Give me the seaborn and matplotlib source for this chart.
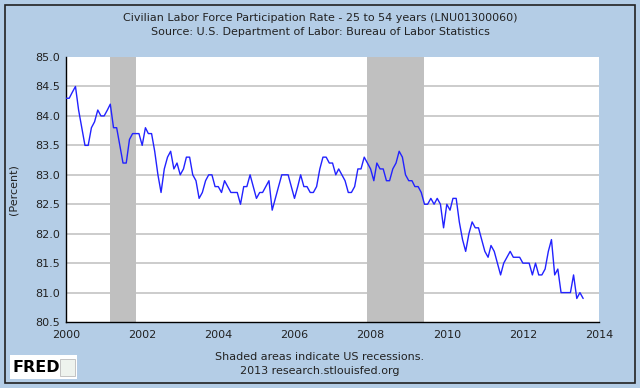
import pandas as pd
import seaborn as sns
import matplotlib.pyplot as plt
import matplotlib.dates as mdates
from matplotlib.patches import Rectangle

# %% data (monthly, not seasonally adjusted)

start_month = "2000-01-01"

rate_2000 = [84.3, 84.3, 84.4, 84.5, 84.1, 83.8, 83.5, 83.5, 83.8, 83.9, 84.1, 84.0]
rate_2001 = [84.0, 84.1, 84.2, 83.8, 83.8, 83.5, 83.2, 83.2, 83.6, 83.7, 83.7, 83.7]
rate_2002 = [83.5, 83.8, 83.7, 83.7, 83.4, 83.0, 82.7, 83.1, 83.3, 83.4, 83.1, 83.2]
rate_2003 = [83.0, 83.1, 83.3, 83.3, 83.0, 82.9, 82.6, 82.7, 82.9, 83.0, 83.0, 82.8]
rate_2004 = [82.8, 82.7, 82.9, 82.8, 82.7, 82.7, 82.7, 82.5, 82.8, 82.8, 83.0, 82.8]
rate_2005 = [82.6, 82.7, 82.7, 82.8, 82.9, 82.4, 82.6, 82.8, 83.0, 83.0, 83.0, 82.8]
rate_2006 = [82.6, 82.8, 83.0, 82.8, 82.8, 82.7, 82.7, 82.8, 83.1, 83.3, 83.3, 83.2]
rate_2007 = [83.2, 83.0, 83.1, 83.0, 82.9, 82.7, 82.7, 82.8, 83.1, 83.1, 83.3, 83.2]
rate_2008 = [83.1, 82.9, 83.2, 83.1, 83.1, 82.9, 82.9, 83.1, 83.2, 83.4, 83.3, 83.0]
rate_2009 = [82.9, 82.9, 82.8, 82.8, 82.7, 82.5, 82.5, 82.6, 82.5, 82.6, 82.5, 82.1]
rate_2010 = [82.5, 82.4, 82.6, 82.6, 82.2, 81.9, 81.7, 82.0, 82.2, 82.1, 82.1, 81.9]
rate_2011 = [81.7, 81.6, 81.8, 81.7, 81.5, 81.3, 81.5, 81.6, 81.7, 81.6, 81.6, 81.6]
rate_2012 = [81.5, 81.5, 81.5, 81.3, 81.5, 81.3, 81.3, 81.4, 81.7, 81.9, 81.3, 81.4]
rate_2013 = [81.0, 81.0, 81.0, 81.0, 81.3, 80.9, 81.0, 80.9]

recession_start = ["2001-03-01", "2007-12-01"]
recession_end = ["2001-11-01", "2009-06-01"]

y_ticks = [80.5, 81.0, 81.5, 82.0, 82.5, 83.0, 83.5, 84.0, 84.5, 85.0]
x_tick_years = [2000, 2002, 2004, 2006, 2008, 2010, 2012, 2014]

# %% build frame

rate = (rate_2000 + rate_2001 + rate_2002 + rate_2003 + rate_2004 + rate_2005
        + rate_2006 + rate_2007 + rate_2008 + rate_2009 + rate_2010 + rate_2011
        + rate_2012 + rate_2013)

lfpr = pd.DataFrame({"Date": pd.date_range(start_month, periods=len(rate), freq="MS"),
                     "Rate": rate})

# %% plot

fred_blue = "#b4cde6"

sns.set_style("white")
plt.rcParams['font.family'] = ['DejaVu Sans']

fig = plt.figure(figsize=(6.4, 3.88), dpi=100, facecolor=fred_blue)
fig.patches.append(Rectangle((0.008, 0.012), 0.984, 0.976, transform=fig.transFigure,
                             facecolor="none", edgecolor="#222222", linewidth=1.2))

ax = fig.add_axes([0.1031, 0.170, 0.833, 0.683])
ax.set_facecolor("white")

for s, e in zip(recession_start, recession_end):
    ax.axvspan(pd.Timestamp(s), pd.Timestamp(e), color="#c0c0c0", linewidth=0, zorder=1)

for v in y_ticks[1:-1]:
    ax.axhline(v, color="#cccccc", linewidth=1.4, zorder=0.5)

sns.lineplot(x="Date", y="Rate", data=lfpr, color="#2222ff", linewidth=1.0, ax=ax, zorder=3)

ax.set_xlim(pd.Timestamp("2000-01-01"), pd.Timestamp("2014-01-01"))
ax.set_ylim(80.5, 85.0)
ax.set_yticks(y_ticks)
ax.set_yticklabels([f"{v:.1f}" for v in y_ticks])
ax.set_xticks([pd.Timestamp(f"{y}-01-01") for y in x_tick_years])
ax.xaxis.set_major_formatter(mdates.DateFormatter('%Y'))

ax.tick_params(axis="both", direction="in", length=4, width=1, color="black",
               labelsize=8, labelcolor="#222222")
ax.tick_params(axis="y", pad=4)
ax.tick_params(axis="x", pad=6)

for side in ["top", "right"]:
    ax.spines[side].set_visible(False)
for side in ["left", "bottom"]:
    ax.spines[side].set_color("black")
    ax.spines[side].set_linewidth(1.0)

ax.set_xlabel("")
ax.set_ylabel("(Percent)", fontsize=8, color="#222222", labelpad=12)

fig.text(0.5, 0.953, "Civilian Labor Force Participation Rate - 25 to 54 years (LNU01300060)",
         ha="center", va="center", fontsize=8, color="#222222")
fig.text(0.5, 0.917, "Source: U.S. Department of Labor: Bureau of Labor Statistics",
         ha="center", va="center", fontsize=8, color="#222222")
fig.text(0.5, 0.080, "Shaded areas indicate US recessions.",
         ha="center", va="center", fontsize=8, color="#222222")
fig.text(0.5, 0.043, "2013 research.stlouisfed.org",
         ha="center", va="center", fontsize=8, color="#222222")

# FRED logo
fig.patches.append(Rectangle((0.0156, 0.022), 0.105, 0.062, transform=fig.transFigure,
                             facecolor="white", edgecolor="none"))
fig.text(0.019, 0.053, "FRED", ha="left", va="center", fontsize=11.5,
         fontweight="bold", color="black")
fig.patches.append(Rectangle((0.094, 0.030), 0.023, 0.045, transform=fig.transFigure,
                             facecolor="#eef3ee", edgecolor="#bbbbbb", linewidth=0.6))

fig.savefig("out.png", dpi=100, facecolor=fred_blue)
